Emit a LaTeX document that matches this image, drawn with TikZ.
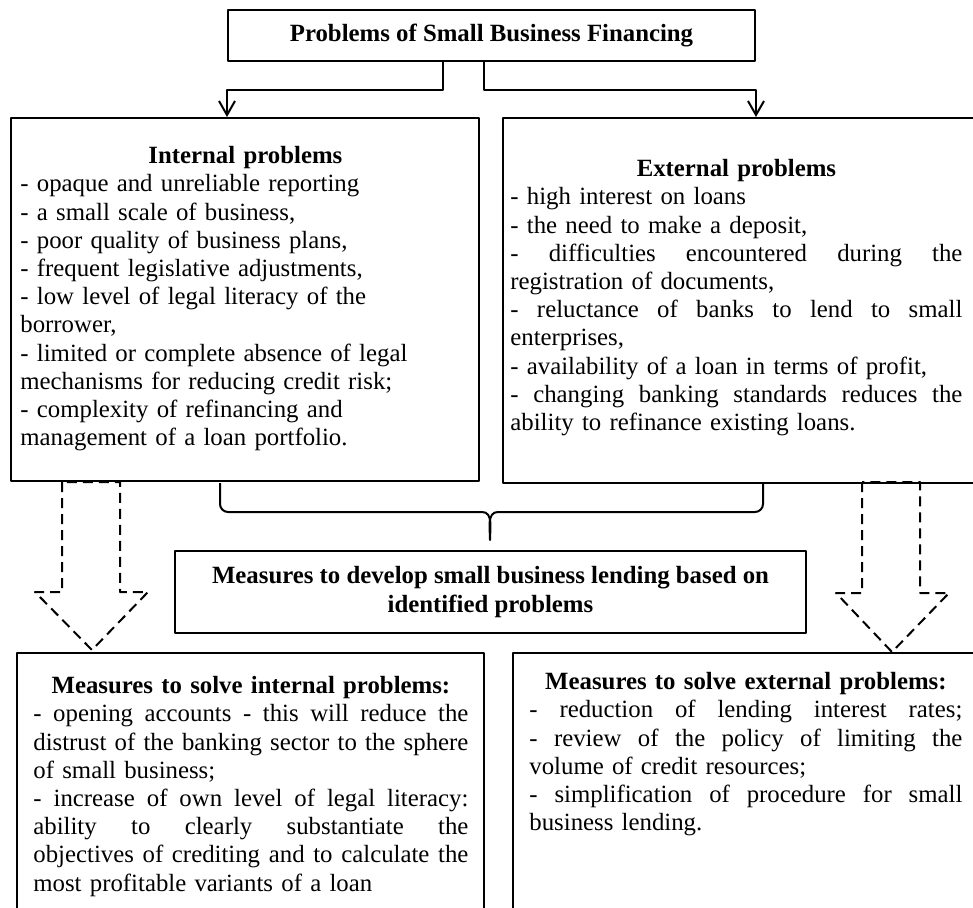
\documentclass[tikz,border=0pt]{standalone}
\usepackage{fontspec}
\setmainfont{Liberation Serif}
\usetikzlibrary{arrows.meta,positioning}

\newdimen\pxu
\pxu=0.5pt

\newcommand\fullline[1]{{\spaceskip=0pt\xspaceskip=0pt\makebox[\linewidth][s]{#1}}}
\newcommand\headline[1]{\makebox[\linewidth]{\textbf{#1}}}

\tikzset{
  box/.style={draw, line width=1pt, inner sep=0pt, anchor=north west},
  txt/.style={inner sep=0pt, anchor=north west, align=left,
    font=\fontsize{12.4}{14.1}\selectfont},
  conn/.style={line width=1pt, -{Straight Barb[length=7pt,width=8pt]}},
  hollow/.style={line width=1pt, dash pattern=on 5pt off 3pt}
}

\begin{document}
\begin{tikzpicture}[
  x=0.5pt,
  y=-0.5pt,
  line join=round
]
  \useasboundingbox (0,0) rectangle (973,908);

  % Заголовок
  \node[box, anchor=center, minimum width=527\pxu, minimum height=51\pxu,
    font=\fontsize{12.4}{14.1}\selectfont\bfseries]
    (title) at (491.5,35.5) {Problems of Small Business Financing};

  % Внутренние и внешние проблемы
  \node[box, minimum width=468\pxu, minimum height=363\pxu] (intbox) at (10,117) {};
  \node[txt, text width=450\pxu] (inttxt) at (20,146) {%
    \headline{Internal problems}\\
    - opaque and unreliable reporting\\
    - a small scale of business,\\
    - poor quality of business plans,\\
    - frequent legislative adjustments,\\
    - low level of legal literacy of the\\
    borrower,\\
    - limited or complete absence of legal\\
    mechanisms for reducing credit risk;\\
    - complexity of refinancing and\\
    management of a loan portfolio.};

  \node[box, minimum width=490\pxu, minimum height=365\pxu] (extbox) at (502,117) {};
  \node[txt, text width=452\pxu] (exttxt) at (510,159) {%
    \headline{External problems}\\
    - high interest on loans\\
    - the need to make a deposit,\\
    \fullline{- difficulties encountered during the}\\
    registration of documents,\\
    \fullline{- reluctance of banks to lend to small}\\
    enterprises,\\
    - availability of a loan in terms of profit,\\
    \fullline{- changing banking standards reduces the}\\
    ability to refinance existing loans.};

  % Стрелки от заголовка
  \draw[conn] ([xshift=-48.5\pxu]title.south)
    |- ([yshift=-28\pxu]title.south west) -- (intbox.north -| title.west);
  \draw[conn] ([xshift=-7.5\pxu]title.south)
    |- ([yshift=-28\pxu]title.south east) -- (extbox.north -| title.east);

  % Фигурная скобка
  \draw[line width=1pt]
    (220,483) -- (220,504) to[out=-90,in=180] (228,512) -- (482,512)
    to[out=0,in=90] (490,540) to[out=90,in=180] (498,512) -- (755,512)
    to[out=0,in=-90] (763,504) -- (763,483);

  % Меры
  \node[box, anchor=center, minimum width=631\pxu, minimum height=82\pxu,
    align=center, font=\fontsize{12.4}{14.1}\selectfont\bfseries]
    (measbox) at (490.5,592)
    {Measures to develop small business lending based on\\identified problems};

  % Пунктирные стрелки
  \draw[hollow]
    (62,482) -- (62,592) -- (35,592) -- (92,650)
    -- (148,592) -- (120,592) -- (120,482) -- cycle;
  \draw[hollow]
    (862,482) -- (862,593) -- (836,593) -- (892,652)
    -- (949,593) -- (920,593) -- (920,482) -- cycle;

  % Нижние блоки
  \node[box, minimum width=467\pxu, minimum height=300\pxu] (solvint) at (16,652) {};
  \node[txt, text width=435\pxu] (solvinttxt) at (33,676) {%
    \headline{Measures to solve internal problems:}\\
    \fullline{- opening accounts - this will reduce the}\\
    \fullline{distrust of the banking sector to the sphere}\\
    of small business;\\
    \fullline{- increase of own level of legal literacy:}\\
    \fullline{ability to clearly substantiate the}\\
    \fullline{objectives of crediting and to calculate the}\\
    most profitable variants of a loan};

  \node[box, minimum width=480\pxu, minimum height=300\pxu] (solvext) at (512,652) {};
  \node[txt, text width=433\pxu] (solvexttxt) at (529,672) {%
    \headline{Measures to solve external problems:}\\
    \fullline{- reduction of lending interest rates;}\\
    \fullline{- review of the policy of limiting the}\\
    volume of credit resources;\\
    \fullline{- simplification of procedure for small}\\
    business lending.};
\end{tikzpicture}
\end{document}
